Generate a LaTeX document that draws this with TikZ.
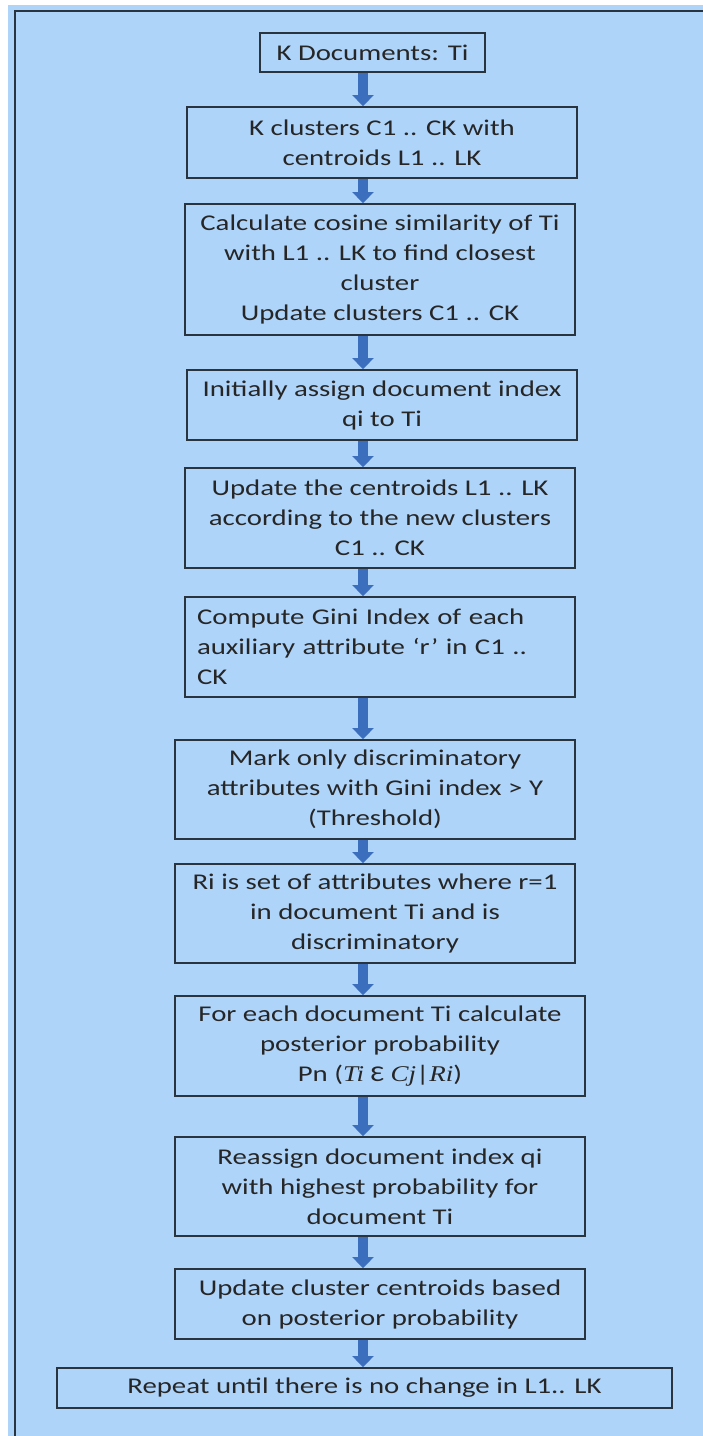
\documentclass[tikz,border=0pt]{standalone}
\usepackage{fontspec}
\setmainfont{Carlito}[FakeStretch=1.28]
\newfontfamily\mathserif{Liberation Serif}[FakeStretch=1.2]
\newcommand{\mi}[1]{{\mathserif\itshape #1}}
\usetikzlibrary{arrows.meta}

\definecolor{bgblue}{RGB}{175,212,250}
\definecolor{boxline}{RGB}{42,52,62}
\definecolor{arrowblue}{RGB}{60,110,190}

\tikzset{
  stepbox/.style={draw=boxline, line width=1.8pt, align=center, inner sep=0pt,
    text=black!85, font=\fontsize{22.5}{30}\selectfont},
  flow/.style={draw=arrowblue, line width=10pt, -{Triangle[width=21pt,length=11pt]}}
}

\begin{document}
\begin{tikzpicture}[x=1pt, y=-1pt]

\useasboundingbox (0,0) rectangle (703,1436);
\fill[white] (0,0) rectangle (703,1436);
\fill[bgblue] (8,5) rectangle (712,1445);
\draw[boxline, line width=2.6pt] (712,11) -- (15,11) -- (15,1445);

\coordinate (spine) at (363,0);

\node[stepbox, minimum width=225, minimum height=39] (b1) at (372.5,52.5) {K Documents: Ti};
\node[stepbox, minimum width=390, minimum height=71] (b2) at (382,142.5) {K clusters C1 .. CK with\\ centroids L1 .. LK};
\node[stepbox, minimum width=390, minimum height=131] (b3) at (380,269.5) {Calculate cosine similarity of Ti\\ with L1 .. LK to find closest\\ cluster\\ Update clusters C1 .. CK};
\node[stepbox, minimum width=390, minimum height=70] (b4) at (382,405) {Initially assign document index\\ qi to Ti};
\node[stepbox, minimum width=390, minimum height=100] (b5) at (380,518) {Update the centroids L1 .. LK\\ according to the new clusters\\ C1 .. CK};
\node[stepbox, align=left, text width=366, minimum width=390, minimum height=100] (b6) at (380,647) {Compute Gini Index of each\\ auxiliary attribute ‘r’ in C1 ..\\ CK};
\node[stepbox, minimum width=400, minimum height=99] (b7) at (375,789.5) {Mark only discriminatory\\ attributes with Gini index > Y\\ (Threshold)};
\node[stepbox, minimum width=400, minimum height=99] (b8) at (375,913.5) {Ri is set of attributes where r=1\\ in document Ti and is\\ discriminatory};
\node[stepbox, minimum width=410, minimum height=100] (b9) at (380,1046) {For each document Ti calculate\\ posterior probability\\ Pn (\mi{Ti} Ɛ \mi{Cj}|\mi{Ri})};
\node[stepbox, minimum width=410, minimum height=99] (b10) at (380,1186.5) {Reassign document index qi\\ with highest probability for\\ document Ti};
\node[stepbox, minimum width=410, minimum height=70] (b11) at (380,1304) {Update cluster centroids based\\ on posterior probability};
\node[stepbox, minimum width=615, minimum height=40] (b12) at (364.5,1388) {Repeat until there is no change in L1.. LK};

\foreach \a/\b in {b1/b2,b2/b3,b3/b4,b4/b5,b5/b6,b6/b7,b7/b8,b8/b9,b9/b10,b10/b11,b11/b12}
\draw[flow] (\a.south -| spine) -- (\b.north -| spine);

\end{tikzpicture}
\end{document}
